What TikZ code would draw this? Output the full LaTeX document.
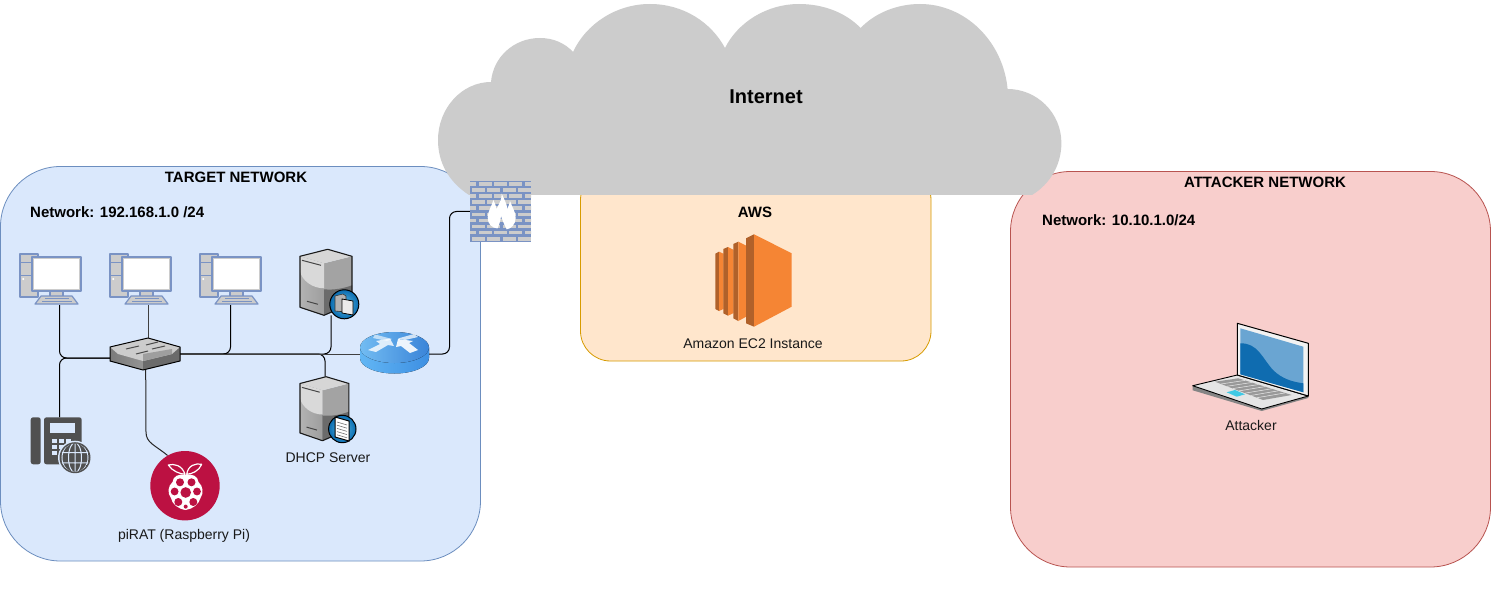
\documentclass[tikz,border=0pt]{standalone}
\usepackage{fontspec}
\setmainfont{Liberation Sans}
\usetikzlibrary{calc}
\definecolor{tfill}{HTML}{DAE8FC}\definecolor{tline}{HTML}{6C8EBF}
\definecolor{afill}{HTML}{FFE6CC}\definecolor{aline}{HTML}{D79B00}
\definecolor{rfill}{HTML}{F8CECC}\definecolor{rline}{HTML}{B85450}
\definecolor{cloudc}{HTML}{CCCCCC}
\definecolor{pcb}{HTML}{7A93C4}
\definecolor{eco}{HTML}{F58534}\definecolor{ecd}{HTML}{B0612A}
\definecolor{pired}{HTML}{BC1142}\definecolor{phone}{HTML}{505050}
\definecolor{badgeo}{HTML}{0B6CB0}\definecolor{badgei}{HTML}{55B8E4}
\definecolor{rtl}{HTML}{72BCF2}\definecolor{rtr}{HTML}{3A84D8}
\definecolor{rsl}{HTML}{62B6F4}\definecolor{rsr}{HTML}{3D8FE2}
\definecolor{scrl}{HTML}{6AA5D2}\definecolor{scrd}{HTML}{0F6CB0}
\tikzset{
 x=1pt,y=-1pt,
 panel/.style={line width=.8pt},
 anchorbox/.style={inner sep=0pt,outer sep=0pt,minimum width=#1},
 wire/.style={line width=1pt,draw=black,rounded corners=7pt},
 lab/.style={font=\fontsize{14}{16}\selectfont,inner sep=0pt,text=black!90},
 blab/.style={font=\fontsize{15}{17}\selectfont\bfseries,inner sep=0pt},
 pcpart/.style={draw=pcb,line width=1.2pt,fill=cloudc,line join=round},
 pics/pcicon/.style={code={
   \path[pcpart] (0,0) rectangle (18,43);
   \draw[pcb,line width=.8pt] (0,8) -- (12,8) (0,21) -- (12,21);
   \fill[white] (3.3,25) circle (1.1);
   \path[pcpart] (30,37) rectangle (43,43);
   \path[pcpart] (12,3) rectangle (61,37);
   \fill[white] (14,5) rectangle (59,35);
   \path[pcpart] (21,42) -- (52,42) -- (58,50) -- (15,50) -- cycle;
   \draw[pcb,line width=.7pt] (25,44.5) -- (49,44.5) (22,47) -- (52,47);
 }},
 pics/servericon/.style={code={
   \fill[left color=black!30,right color=black!38] (0,7) -- (24,14) -- (24,66) -- (0,58) -- cycle;
   \fill[black!36] (24,14) -- (52,7) -- (52,54) -- (24,66) -- cycle;
   \fill[black!58] (24,40) .. controls (34,41) and (44,39) .. (52,36) -- (52,54) -- (24,66) -- cycle;
   \fill[black!16] (0,7) -- (27.7,0) -- (52,7) -- (24,14) -- cycle;
   \fill[black!15] (0,7) -- (24,14) -- (24,39) .. controls (12,39) and (2,31) .. (0,22) -- cycle;
   \draw[black!72,line width=1pt] (2,11) -- (21,16) (7,52) -- (18,55);
   \draw[black!90,line width=1.1pt,line join=round] (0,7) -- (27.7,0) -- (52,7) -- (52,54) -- (24,66) -- (0,58) -- cycle;
 }},
}
\begin{document}
\begin{tikzpicture}
\useasboundingbox (0,0) rectangle (1491,596);
\fill[white] (0,0) rectangle (1491,596);
% panels
\path[panel,draw=tline,fill=tfill,rounded corners=60pt] (0.5,166.5) rectangle (480.5,561);
\path[panel,draw=aline,fill=afill,rounded corners=30pt] (580.5,170) rectangle (931,361);
\path[panel,draw=rline,fill=rfill,rounded corners=60pt] (1010.5,171.5) rectangle (1490.5,567);
% cloud
\fill[cloudc] (469,195) .. controls (449,182) and (438,163) .. (438,140)
  .. controls (438,108) and (462,82) .. (491,82)
  .. controls (493,57) and (514,38) .. (540,38)
  .. controls (553,38) and (565,43) .. (573,52)
  .. controls (586,24) and (616,4) .. (650,4)
  .. controls (683,4) and (711,22) .. (725,48)
  .. controls (738,22) and (767,4) .. (799,4)
  .. controls (824,4) and (846,13) .. (860.6,28)
  .. controls (875,13) and (897,4) .. (920,4)
  .. controls (965,4) and (1003,41) .. (1007.6,89)
  .. controls (1037,89) and (1061.4,113) .. (1061.4,143)
  .. controls (1061.4,165) and (1050,184) .. (1032,195) -- cycle;
\node[inner sep=0pt,font=\fontsize{20}{24}\selectfont\bfseries] (internet) at (766,96.5) {Internet};
% labels
\node[blab] (tlabel) at (236,177) {TARGET NETWORK};
\node[blab,anchor=west] (tnet) at (30,212) {Network: 192.168.1.0 /24};
\node[blab] (alabel) at (755,212) {AWS};
\node[blab] (rlabel) at (1265,182) {ATTACKER NETWORK};
\node[blab,anchor=west] (rnet) at (1042,220) {Network: 10.10.1.0/24};
\node[lab] (ec2l) at (753,344) {Amazon EC2 Instance};
\node[lab] (attl) at (1251,425) {Attacker};
\node[lab] (pil) at (184,536) {piRAT (Raspberry Pi)};
\node[lab] (dhcpl) at (328,458) {DHCP Server};
% anchor nodes of the icons
\node[anchorbox=61pt,minimum height=50.5pt] (pc1) at (50.5,279.5) {};
\node[anchorbox=61pt,minimum height=50.5pt] (pc2) at (140.5,279.5) {};
\node[anchorbox=61pt,minimum height=50.5pt] (pc3) at (230.5,279.5) {};
\node[anchorbox=70pt,minimum height=32pt] (sw) at (145,354) {};
\node[anchorbox=68pt,minimum height=42pt] (router) at (394.5,354) {};
\node[anchorbox=61pt,minimum height=61pt] (fw) at (500.5,211.5) {};
\node[anchorbox=52pt,minimum height=66pt] (srv) at (326,282.3) {};
\node[anchorbox=49pt,minimum height=64pt] (dhcp) at (325,408.5) {};
\node[anchorbox=51pt,minimum height=47pt] (ph) at (59.5,440.8) {};
\node[circle,inner sep=0pt,minimum size=69.4pt] (pi) at (185,485.7) {};
% connectors
\draw[wire] ($(pc1.south)+(9,0)$) |- ($(sw.west)+(0,4)$);
\draw[wire] (ph.north) |- ($(sw.west)+(0,4)$);
\draw[wire,black!75] ($(pc2.south)+(7.5,0)$) -- ($(sw.north)+(3,0)$);
\draw[wire] (pc3.south) |- (sw.east);
\draw[wire] ($(srv.south)+(5,0)$) |- (sw.east);
\draw[wire] (dhcp.north) |- (sw.east);
\draw[wire,black!75] (sw.east) -- (router.west);
\draw[wire] (router.east) -- ++(21,0) |- (fw.west);
\draw[line width=1pt,black!85] ($(sw.south)+(.7,0)$) -- (146,432) .. controls (146,443) and (155,445) .. (pi.120);
% switch
\fill[left color=black!52,right color=black!42] (110,347) -- (143,356) -- (143,370) -- (110,361) -- cycle;
\fill[black!58] (143,356) -- (180,347) -- (180,361) -- (143,370) -- cycle;
\fill[black!20] (110,347) -- (148,338) -- (180,347) -- (172,354) -- (143,361) -- (118,354) -- cycle;
\fill[black!38] (143,354) -- (172,349) -- (172,354) -- (143,361) -- cycle;
\draw[black!70,line width=1pt] (126,349) -- (139,346) (146,345) -- (158,342) (136,354) -- (148,351) (152,349) -- (165,346);
\draw[black,line width=1pt,line join=round] (110,347) -- (148,338) -- (180,347) -- (180,361) -- (143,370) -- (110,361) -- cycle;
% PCs
\pic at (20,254) {pcicon};
\pic at (110,254) {pcicon};
\pic at (200,254) {pcicon};
% servers
\pic at (300,249.3) {servericon};
\pic[xscale=.94,yscale=.97] at (300,376.7) {servericon};
% server badge
\fill[draw=black,line width=1pt,inner color=badgei,outer color=badgeo] (344.3,304.3) circle (14.5);
\path[draw=black!80,fill=black!30,line width=.6pt] (335,296) -- (343,294) -- (346,296) -- (346,312) -- (335,311) -- cycle;
\path[draw=black,fill=black!8,line width=.8pt] (342,299) -- (353,301) -- (353,315) -- (342,313) -- cycle;
% dhcp badge
\fill[draw=black,line width=1pt,inner color=badgei,outer color=badgeo] (342.3,429) circle (13.7);
\path[draw=black,fill=white,line width=1pt] (335,417) -- (349,421) -- (349,441) -- (335,437) -- cycle;
\foreach \t in {0,1,2,3,4}{\draw[black!55,line width=.6pt] (337,{422+3.2*\t}) -- (347,{425+3.2*\t});}
% router
\fill[left color=rsl,right color=rsr] (360,347.5) -- (360,358) arc[start angle=180,end angle=0,x radius=34.5,y radius=15.5] -- (429,347.5) -- cycle;
\fill[left color=rtl,right color=rtr] (394.5,347.5) ellipse (34.5 and 15.5);
\fill[white,opacity=.8] (368,350) -- (380,344) -- (376,341) -- (390,338.5) -- (394,346) -- (388,345) -- (376,352) -- cycle;
\fill[white,opacity=.9] (418,350) -- (409,343) -- (413,341) -- (398,339) -- (396,347) -- (401,346) -- (410,353) -- cycle;
\fill[white,opacity=.6] (375,334.5) -- (392,339) -- (387,341) -- (373,338) -- cycle;
\fill[white,opacity=.75] (414,334) -- (398,338.5) -- (405,340) -- (418,337) -- cycle;
% firewall
\begin{scope}
\fill[pcb] (470,181) rectangle (531,242);
\clip (470,181) rectangle (531,242);
\foreach \r in {0,...,9}{
  \pgfmathsetmacro{\off}{mod(\r,2)==0 ? -8.2 : 0.5}
  \foreach \c in {0,...,4}{
    \fill[cloudc] ({471.5+\off+15.3*\c},{182.3+6.05*\r}) rectangle ++(13,3.8);
  }
}
\end{scope}
\fill[white] (501.7,193.7) .. controls (504,199) and (507,204) .. (507.3,209) .. controls (508.5,206) and (509.5,204) .. (510,201)
  .. controls (512,207) and (515.7,212) .. (515.7,218) .. controls (515.7,224) and (511,229) .. (506.7,229.3)
  .. controls (505,226) and (503,222) .. (501,216) .. controls (500.5,221) and (499,225) .. (497.5,228.5)
  .. controls (492,228) and (487.7,224) .. (487.7,217.7) .. controls (487.7,211) and (492,206) .. (493.3,200)
  .. controls (495,203) and (496,206) .. (496.5,209) .. controls (499,204) and (502,199) .. (501.7,193.7) -- cycle;
% phone
\fill[phone,rounded corners=2.5pt] (30.7,417.3) rectangle (40.7,464.3);
\fill[phone,rounded corners=2.5pt] (44,417.3) rectangle (81.7,464.3);
\fill[tfill] (50,422.7) rectangle (75.3,433.3);
\foreach \a in {0,1,2}{\foreach \b in {0,1,2}{\fill[tfill] ({52+7*\a},{439+6*\b}) rectangle ++(5,3.6);}}
\fill[tfill] (75,457.7) circle (17);
\fill[phone] (75,457.7) circle (15.5);
\begin{scope}
\clip (75,457.7) circle (14);
\draw[tfill,line width=1pt] (75,457.7) ellipse (6.5 and 15) (60,452.5) -- (90,452.5) (60,462.9) -- (90,462.9) (75,442) -- (75,473);
\draw[tfill,line width=1pt] (75,457.7) ellipse (13 and 15);
\end{scope}
% raspberry pi
\fill[pired] (pi.center) circle (34.7);
\draw[white,line width=1.2pt,line join=round] (185,474.3) .. controls (180,474) and (172,471) .. (168.3,465) .. controls (174,463.5) and (182,465) .. (185,474.3) -- cycle;
\draw[white,line width=1.2pt,line join=round] (186.7,474.3) .. controls (192,474) and (199,471) .. (201.7,464.3) .. controls (196,463) and (188,465) .. (186.7,474.3) -- cycle;
\fill[white] (185.7,475) .. controls (192,473.5) and (198,476) .. (198.5,482) .. controls (203,486) and (204,493) .. (200.5,498) .. controls (199,504) and (193,509) .. (185.7,510) .. controls (178,509) and (172,504) .. (171,498) .. controls (167,493) and (168,486) .. (172.5,482) .. controls (173,476) and (179,473.5) .. (185.7,475) -- cycle;
\fill[pired] (180,482.3) circle (4) (191.5,482.3) circle (4) (185.7,492.5) circle (5.3) (174.6,491.5) circle (3.9) (197,491.5) circle (3.9) (178.3,502) circle (4) (193.3,502) circle (4) (185.7,506.6) circle (2);
% EC2
\fill[ecd] (715.3,253.7) -- (719,251.7) -- (719,311) -- (715.3,309) -- cycle;
\fill[eco] (719,251.7) -- (723.5,253.7) -- (723.5,309) -- (719,311) -- cycle;
\fill[ecd] (723.3,249) -- (728,247) -- (728,315.7) -- (723.3,313.3) -- cycle;
\fill[eco] (728,247) -- (733.7,250) -- (733.7,313) -- (728,315.7) -- cycle;
\fill[ecd] (733.3,244) -- (738.3,241.7) -- (738.3,321) -- (733.3,318.3) -- cycle;
\fill[eco] (738.3,241.7) -- (746.2,245.7) -- (746.2,316.7) -- (738.3,321) -- cycle;
\fill[ecd] (746,238.3) -- (754,234.3) -- (754,326.7) -- (746,323.3) -- cycle;
\fill[eco] (754,234.3) -- (791.7,253.3) -- (791.7,306.7) -- (754,326.7) -- cycle;
% laptop
\fill[black!48] (1192.7,385.7) -- (1192.7,390.3) -- (1261.7,411) -- (1308.3,398) -- (1308.3,394) -- cycle;
\path[draw=black,line width=.9pt,fill=black!10,line join=round] (1192.7,385.7) -- (1237.3,375) -- (1308.3,396) -- (1261.7,409) -- cycle;
\path[draw=black,line width=1pt,fill=black!5,line join=round] (1237.3,323.3) -- (1308.3,343.3) -- (1308.3,396) -- (1237.3,375) -- cycle;
\fill[scrl] (1240.3,328.3) -- (1303.3,346.7) -- (1303.3,392.3) -- (1240.3,374.3) -- cycle;
\fill[scrd] (1240.3,343.3) .. controls (1258,343) and (1262,358) .. (1273,370) .. controls (1282,379) and (1293,382) .. (1303.3,383.3) -- (1303.3,392.3) -- (1240.3,374.3) -- cycle;
\fill[black!40] (1215,381.7) -- (1238.3,378.3) -- (1291.7,395) -- (1263,400) -- cycle;
\foreach \t in {.125,.25,.375,.5,.625,.75,.875}{\draw[black!8,line width=.5pt] ($(1215,381.7)!\t!(1263,400)$) -- ($(1238.3,378.3)!\t!(1291.7,395)$);}
\fill[scrl!60!cyan] (1226.7,392.3) -- (1235,390) -- (1245,394.3) -- (1236.7,396.7) -- cycle;
\end{tikzpicture}
\end{document}
